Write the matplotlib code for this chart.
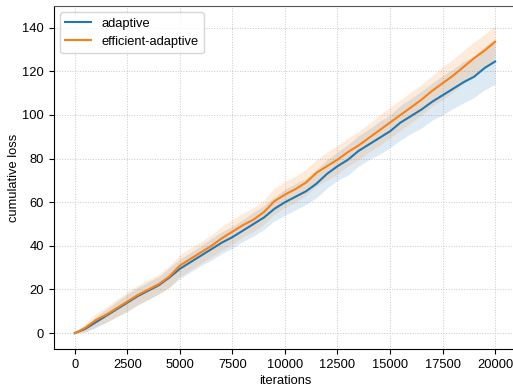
import numpy as np
import matplotlib
matplotlib.use("Agg")
import matplotlib.pyplot as plt

plt.rcParams['font.family'] = ['Liberation Sans', 'DejaVu Sans']

iterations = np.arange(0, 20001, 500)

adaptive = [0, 2, 5, 8, 11, 14, 17, 19.5, 22, 25.5, 29.5, 32.5, 35.5, 38.5, 41.5,
            44, 47, 50, 53, 57, 60, 62.5, 65, 68.5, 73, 76.5, 79.5, 83.5, 86.5,
            89.5, 92.5, 96.5, 99.5, 102.5, 106, 109, 112, 115, 117.5, 121.5, 124.5]
adaptive_std = [0, 1.5, 2.5, 3, 3.5, 4, 4, 4, 4, 4.5, 4.5, 4.5, 4.5, 5, 5, 5, 5,
                5.5, 5.5, 5.5, 6, 6, 6, 6.5, 6.5, 6.5, 7, 7, 7, 7.5, 7.5, 8, 8,
                8.5, 8.5, 9, 9, 9.5, 9.5, 10, 10.5]

efficient = [0, 2.5, 6, 8.5, 11.5, 14.5, 17.5, 20, 22.5, 26, 31, 34, 37, 40, 43.5,
             46.5, 49.5, 52, 55.5, 60.5, 63.5, 66, 69, 73.5, 76.5, 79.5, 83, 86,
             89.5, 93, 96.5, 100, 103.5, 107, 111, 114.5, 118, 122, 126, 129.5, 133.5]
efficient_std = [0, 2, 3, 3.5, 4, 4.5, 4.5, 4.5, 4.5, 5, 5, 5, 5, 5, 5.5, 5.5, 5.5,
                 5.5, 5.5, 6, 6, 6, 6, 6, 6.5, 6.5, 6.5, 6.5, 6.5, 7, 7, 7, 7, 7,
                 7, 7.5, 7.5, 7.5, 7.5, 7.5, 7.5]

series = [("adaptive", adaptive, adaptive_std, "#1f77b4"),
          ("efficient-adaptive", efficient, efficient_std, "#ff7f0e")]

fig = plt.figure(figsize=(5.13, 3.9), dpi=100)
ax = fig.add_axes([0.105, 0.105, 0.901, 0.880])

for name, mean, std, color in series:
    m = np.array(mean)
    s = np.array(std)
    ax.fill_between(iterations, m - s, m + s, color=color, alpha=0.15, linewidth=0)
for name, mean, std, color in series:
    ax.plot(iterations, mean, color=color, linewidth=1.5, label=name)

ax.set_xlim(-1000, 21000)
ax.set_ylim(-7.3, 150)
ax.set_xticks(np.arange(0, 20001, 2500))
ax.set_yticks(np.arange(0, 141, 20))
ax.grid(True, linestyle=':', color='#c8c8c8', linewidth=0.7)
ax.set_axisbelow(True)
ax.spines['right'].set_visible(False)
ax.spines['top'].set_color('#555555')
ax.tick_params(labelsize=9.3, length=3.5, width=0.8)
ax.set_xlabel("iterations", fontsize=9.3, labelpad=3)
ax.set_ylabel("cumulative loss", fontsize=9.3, labelpad=2)
ax.legend(loc='upper left', fontsize=9.3, frameon=True)

fig.savefig("out.png", dpi=100)
